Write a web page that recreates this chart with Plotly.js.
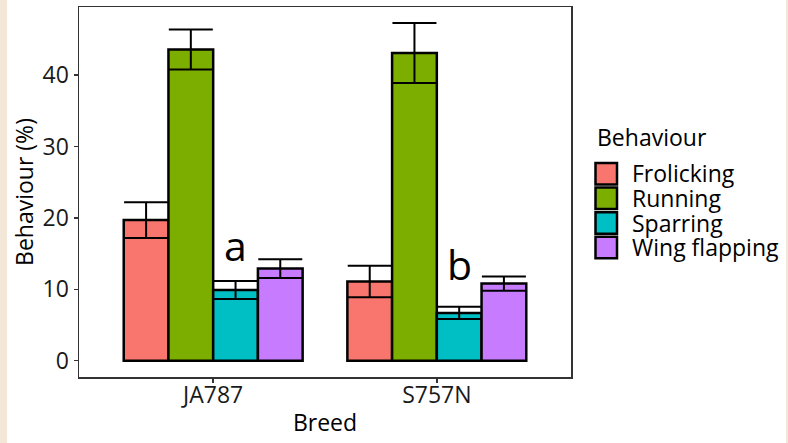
<!DOCTYPE html>
<html>
<head>
<meta charset="utf-8">
<script src="https://cdn.plot.ly/plotly-3.0.1.min.js"></script>
<style>
  html, body { margin: 0; padding: 0; background: #f3e7d8; }
  #chart { position: absolute; left: 7px; top: 0; width: 779px; height: 443px; background: #fff; }
</style>
</head>
<body>
<div id="chart"></div>
<script>
// ---- data ----
const breeds = ['JA787', 'S757N'];
const behaviours = ['Frolicking', 'Running', 'Sparring', 'Wing flapping'];
const colors = ['#F8766D', '#7CAE00', '#00BFC4', '#C77CFF'];
const frolicking = [19.7, 11.1];
const running = [43.6, 43.1];
const sparring = [9.9, 6.7];
const wingFlapping = [12.9, 10.8];
const frolickingSE = [2.5, 2.2];
const runningSE = [2.8, 4.2];
const sparringSE = [1.25, 0.85];
const wingFlappingSE = [1.3, 1.0];
const sigLetters = ['a', 'b'];
const sigLetterY = [12.0, 9.4];
const yTicks = [0, 10, 20, 30, 40];

const means = [frolicking, running, sparring, wingFlapping];
const ses = [frolickingSE, runningSE, sparringSE, wingFlappingSE];

// ---- geometry ----
const W = 779, H = 443;
const ml = 72, mr = 215, mt = 7, mb = 66;
const pw = W - ml - mr, ph = H - mt - mb;
const px2x = p => (p - ml) / pw;
const py2y = p => 1 - (p - mt) / ph;
const FONT = 'Open Sans, sans-serif';

const traces = behaviours.map((b, i) => ({
  type: 'bar',
  name: b,
  x: breeds,
  y: means[i],
  marker: { color: colors[i], line: { color: '#000', width: 2.5 } },
  error_y: { type: 'data', array: ses[i], visible: true, color: '#000', thickness: 2, width: 22 },
  showlegend: false,
  hoverinfo: 'x+y+name'
}));

const shapes = [];
const annotations = [];

// significance letters over the Sparring bars
sigLetters.forEach((t, i) => {
  annotations.push({
    x: i + 0.1, y: sigLetterY[i], xref: 'x', yref: 'y',
    text: t, showarrow: false, yanchor: 'bottom', xanchor: 'center',
    font: { family: FONT, size: 41, color: '#000' }
  });
});

// custom legend (ggplot style)
annotations.push({
  x: px2x(588), y: py2y(137), xref: 'paper', yref: 'paper',
  text: 'Behaviour', showarrow: false, xanchor: 'left', yanchor: 'middle',
  font: { family: FONT, size: 23, color: '#000' }
});
behaviours.forEach((b, i) => {
  const top = 162 + i * 24.6;
  shapes.push({
    type: 'rect', xref: 'paper', yref: 'paper',
    x0: px2x(588.5), x1: px2x(610), y0: py2y(top + 1), y1: py2y(top + 22.5),
    fillcolor: colors[i], line: { color: '#000', width: 2.5 }
  });
  annotations.push({
    x: px2x(623), y: py2y(top + 11.5), xref: 'paper', yref: 'paper',
    text: b, showarrow: false, xanchor: 'left', yanchor: 'middle',
    font: { family: FONT, size: 23, color: '#000' }
  });
});

const layout = {
  width: W, height: H,
  margin: { l: ml, r: mr, t: mt, b: mb, pad: 0 },
  paper_bgcolor: '#fff', plot_bgcolor: '#fff',
  barmode: 'group', bargap: 0.2, bargroupgap: 0,
  font: { family: FONT, size: 23, color: '#000' },
  xaxis: {
    type: 'category', range: [-0.6, 1.6],
    showline: true, mirror: true, linecolor: '#333', linewidth: 1.5,
    ticks: 'outside', ticklen: 4, tickwidth: 1.5, tickcolor: '#333',
    ticklabelstandoff: -7,
    showgrid: false, zeroline: false,
    tickfont: { family: FONT, size: 23, color: '#1a1a1a' },
    title: { text: 'Breed', font: { family: FONT, size: 23, color: '#000' }, standoff: 6 }
  },
  yaxis: {
    range: [-2.28, 49.54], tickvals: yTicks,
    showline: true, mirror: true, linecolor: '#333', linewidth: 1.5,
    ticks: 'outside', ticklen: 4, tickwidth: 1.5, tickcolor: '#333',
    showgrid: false, zeroline: false,
    tickfont: { family: FONT, size: 23, color: '#1a1a1a' },
    title: { text: 'Behaviour (%)', font: { family: FONT, size: 23, color: '#000' }, standoff: 2 }
  },
  shapes: shapes,
  annotations: annotations
};

Plotly.newPlot('chart', traces, layout, { displayModeBar: false, staticPlot: true });
</script>
</body>
</html>
